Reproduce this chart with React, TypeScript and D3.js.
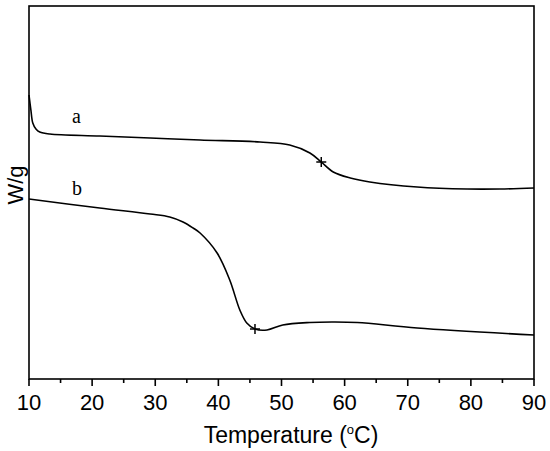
import * as React from 'react'
import * as d3 from 'd3'

// curve a
const tempA = [10, 10.3, 10.6, 11.1, 11.7, 13.3, 21.2, 29.2, 37.1, 46.6, 51.3, 54.5, 56.3, 58.2, 60.9, 64, 71.5, 79.4, 84.6, 90]
const heatA = [2.84, 2.69, 2.56, 2.5, 2.47, 2.45, 2.43, 2.41, 2.39, 2.37, 2.34, 2.26, 2.17, 2.07, 2.01, 1.97, 1.92, 1.9, 1.9, 1.91]
// curve b
const tempB = [10, 21.2, 29.2, 32.3, 34.4, 36, 37.1, 39.8, 41.8, 43.4, 44.5, 45.8, 47.7, 50.2, 54.5, 58, 62, 71.5, 90]
const heatB = [1.8, 1.71, 1.65, 1.62, 1.57, 1.51, 1.46, 1.26, 0.99, 0.69, 0.56, 0.5, 0.49, 0.54, 0.565, 0.57, 0.565, 0.51, 0.44]
// glass transition markers
const markerT = [56.3, 45.8]
const markerH = [2.17, 0.5]
const curveLabels = ['a', 'b']
const labelT = [16.8, 16.8]
const labelH = [2.56, 1.84]
const xTicks = [10, 20, 30, 40, 50, 60, 70, 80, 90]
const xMinor = [15, 25, 35, 45, 55, 65, 75, 85]

const W = 550
const H = 451
const margin = { top: 6, right: 16, bottom: 72, left: 29 }

const App = () => {
  const x = d3.scaleLinear().domain([10, 90]).range([margin.left, W - margin.right])
  const y = d3.scaleLinear().domain([0, 3.73]).range([H - margin.bottom, margin.top])
  const line = d3.line<[number, number]>()
    .x(d => x(d[0]))
    .y(d => y(d[1]))
    .curve(d3.curveCatmullRom.alpha(0.5))
  const a = tempA.map((t, i) => [t, heatA[i]] as [number, number])
  const b = tempB.map((t, i) => [t, heatB[i]] as [number, number])
  const bottom = H - margin.bottom
  const font = 'Arial, "Liberation Sans", sans-serif'

  return (
    <svg width={W} height={H} style={{ position: 'absolute', left: 0, top: 0 }}>
      <rect x={0} y={0} width={W} height={H} fill="#fff" />
      <rect x={margin.left} y={margin.top} width={W - margin.left - margin.right}
        height={bottom - margin.top} fill="none" stroke="#000" strokeWidth={1.6} />
      {xTicks.map(t => (
        <g key={t}>
          <line x1={x(t)} x2={x(t)} y1={bottom} y2={bottom + 7} stroke="#000" strokeWidth={1.6} />
          <text x={x(t)} y={bottom + 31} textAnchor="middle" fontFamily={font} fontSize={22}>{t}</text>
        </g>
      ))}
      {xMinor.map(t => (
        <line key={t} x1={x(t)} x2={x(t)} y1={bottom} y2={bottom + 4} stroke="#000" strokeWidth={1.6} />
      ))}
      <text x={291} y={443} textAnchor="middle" fontFamily={font} fontSize={23}>
        Temperature (<tspan dy={-9} fontSize={13}>o</tspan><tspan dy={9}>C)</tspan>
      </text>
      <text transform="translate(23,185) rotate(-90)" textAnchor="middle" fontFamily={font} fontSize={22}>W/g</text>
      <path d={line(a) || ''} fill="none" stroke="#000" strokeWidth={1.6} />
      <path d={line(b) || ''} fill="none" stroke="#000" strokeWidth={1.6} />
      {markerT.map((t, i) => (
        <g key={i} stroke="#000" strokeWidth={1.5}>
          <line x1={x(t) - 5} x2={x(t) + 5} y1={y(markerH[i])} y2={y(markerH[i])} />
          <line x1={x(t)} x2={x(t)} y1={y(markerH[i]) - 5} y2={y(markerH[i]) + 5} />
        </g>
      ))}
      {curveLabels.map((l, i) => (
        <text key={l} x={x(labelT[i])} y={y(labelH[i])} fontFamily='"Liberation Serif", "Times New Roman", serif' fontSize={20}>{l}</text>
      ))}
    </svg>
  )
}

export default App
